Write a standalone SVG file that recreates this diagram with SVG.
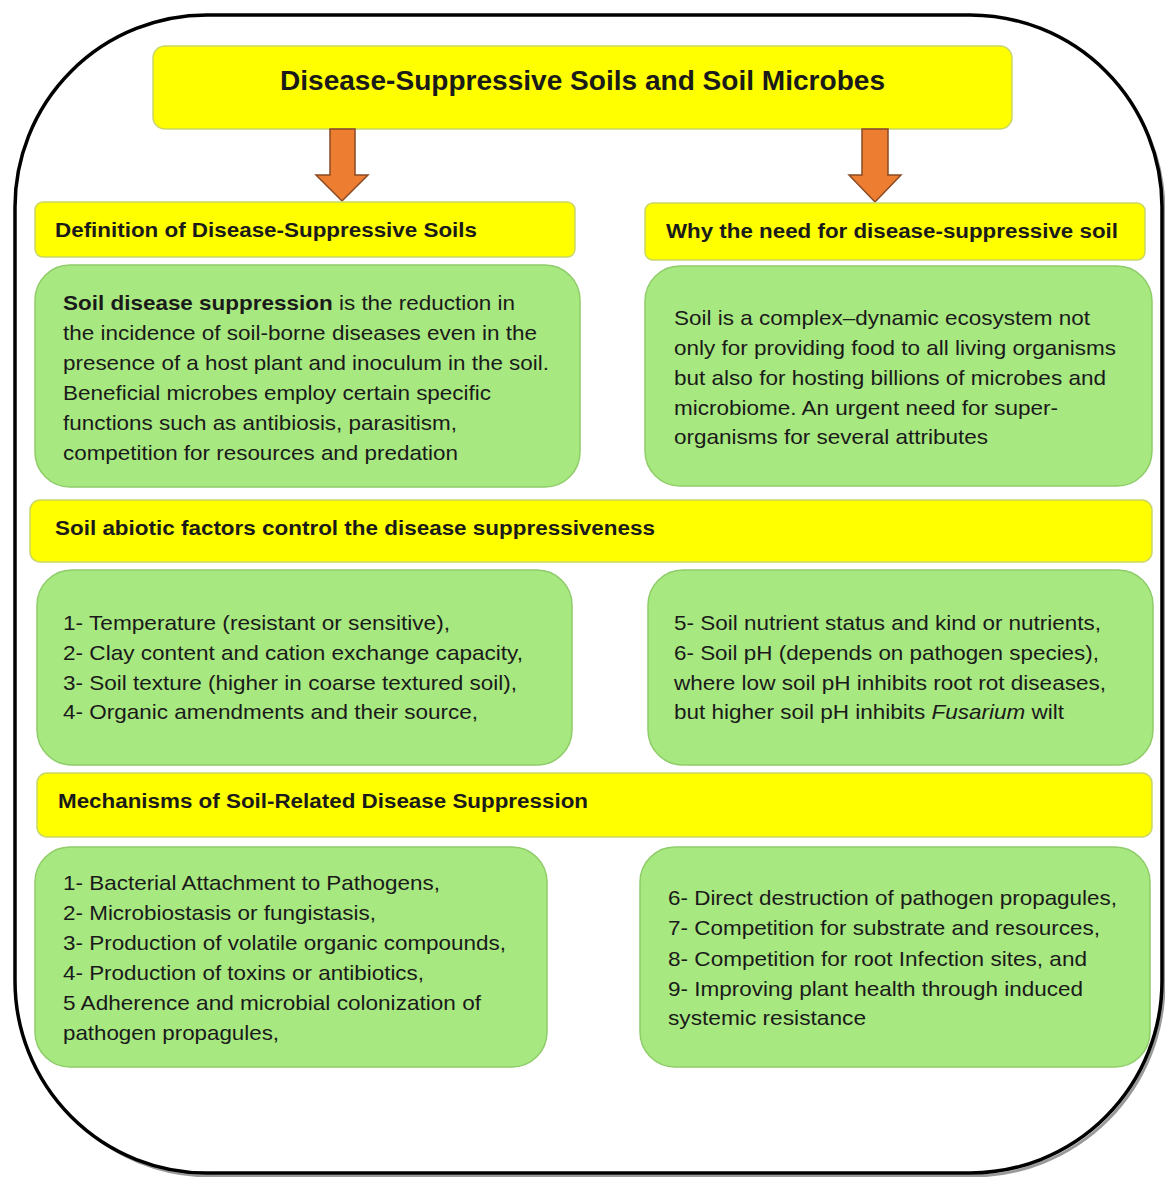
<svg xmlns="http://www.w3.org/2000/svg" width="1165" height="1177" viewBox="0 0 1165 1177">
<defs>
<style>
.frame{fill:#ffffff;stroke:#000000;stroke-width:3.5}
.shadow{fill:none;stroke:#9a9a9a;stroke-width:3}
.ybox{fill:#ffff00;stroke:#c9d66a;stroke-width:1.5}
.gbox{fill:#a8e880;stroke:#8fcc6a;stroke-width:1.5}
.arrow{fill:#ed7d31;stroke:#8a4a22;stroke-width:1.5}
.t{font-family:"Liberation Sans",Arial,sans-serif;fill:#1a1a1a}
.h{font-weight:bold;font-size:20px}
.b{font-size:21px}
</style>
</defs>
<rect class="shadow" x="19" y="19" width="1145" height="1157" rx="192"/>
<rect class="frame" x="15" y="15" width="1147" height="1158" rx="192"/>

<g id="title">
<rect class="ybox" x="153" y="46" width="859" height="83" rx="12"/>
<text class="t" x="280" y="90" font-size="28" font-weight="bold" textLength="605" lengthAdjust="spacingAndGlyphs">Disease-Suppressive Soils and Soil Microbes</text>
</g>

<g id="connectors">
<path class="arrow" d="M330,129 L355,129 L355,175 L368,175 L342,201 L316,175 L330,175 Z"/>
<path class="arrow" d="M862,129 L888,129 L888,175 L901,175 L875,202 L849,175 L862,175 Z"/>
</g>

<g id="def-header">
<rect class="ybox" x="35" y="202" width="540" height="55" rx="8"/>
<text class="t h" x="55" y="237" textLength="422" lengthAdjust="spacingAndGlyphs">Definition of Disease-Suppressive Soils</text>
</g>

<g id="why-header">
<rect class="ybox" x="645" y="203" width="500" height="57" rx="8"/>
<text class="t h" x="666" y="238" textLength="452" lengthAdjust="spacingAndGlyphs">Why the need for disease-suppressive soil</text>
</g>

<g id="def-body">
<rect class="gbox" x="35" y="265" width="545" height="222" rx="35"/>
<text class="t b" x="63" y="310" textLength="452" lengthAdjust="spacingAndGlyphs"><tspan font-weight="bold">Soil disease suppression</tspan> is the reduction in</text>
<text class="t b" x="63" y="340" textLength="474" lengthAdjust="spacingAndGlyphs">the incidence of soil-borne diseases even in the</text>
<text class="t b" x="63" y="370" textLength="486" lengthAdjust="spacingAndGlyphs">presence of a host plant and inoculum in the soil.</text>
<text class="t b" x="63" y="400" textLength="428" lengthAdjust="spacingAndGlyphs">Beneficial microbes employ certain specific</text>
<text class="t b" x="63" y="430" textLength="394" lengthAdjust="spacingAndGlyphs">functions such as antibiosis, parasitism,</text>
<text class="t b" x="63" y="460" textLength="395" lengthAdjust="spacingAndGlyphs">competition for resources and predation</text>
</g>

<g id="why-body">
<rect class="gbox" x="645" y="266" width="507" height="220" rx="35"/>
<text class="t b" x="674" y="325" textLength="416" lengthAdjust="spacingAndGlyphs">Soil is a complex–dynamic ecosystem not</text>
<text class="t b" x="674" y="355" textLength="442" lengthAdjust="spacingAndGlyphs">only for providing food to all living organisms</text>
<text class="t b" x="674" y="385" textLength="432" lengthAdjust="spacingAndGlyphs">but also for hosting billions of microbes and</text>
<text class="t b" x="674" y="415" textLength="384" lengthAdjust="spacingAndGlyphs">microbiome. An urgent need for super-</text>
<text class="t b" x="674" y="444" textLength="314" lengthAdjust="spacingAndGlyphs">organisms for several attributes</text>
</g>

<g id="abiotic-header">
<rect class="ybox" x="30" y="500" width="1122" height="62" rx="10"/>
<text class="t h" x="55" y="535" textLength="600" lengthAdjust="spacingAndGlyphs">Soil abiotic factors control the disease suppressiveness</text>
</g>

<g id="abiotic-left">
<rect class="gbox" x="37" y="570" width="535" height="195" rx="35"/>
<text class="t b" x="63" y="630" textLength="387" lengthAdjust="spacingAndGlyphs">1- Temperature (resistant or sensitive),</text>
<text class="t b" x="63" y="660" textLength="460" lengthAdjust="spacingAndGlyphs">2- Clay content and cation exchange capacity,</text>
<text class="t b" x="63" y="690" textLength="454" lengthAdjust="spacingAndGlyphs">3- Soil texture (higher in coarse textured soil),</text>
<text class="t b" x="63" y="719" textLength="415" lengthAdjust="spacingAndGlyphs">4- Organic amendments and their source,</text>
</g>

<g id="abiotic-right">
<rect class="gbox" x="648" y="570" width="505" height="195" rx="35"/>
<text class="t b" x="674" y="630" textLength="427" lengthAdjust="spacingAndGlyphs">5- Soil nutrient status and kind or nutrients,</text>
<text class="t b" x="674" y="660" textLength="425" lengthAdjust="spacingAndGlyphs">6- Soil pH (depends on pathogen species),</text>
<text class="t b" x="674" y="690" textLength="432" lengthAdjust="spacingAndGlyphs">where low soil pH inhibits root rot diseases,</text>
<text class="t b" x="674" y="719" textLength="390" lengthAdjust="spacingAndGlyphs">but higher soil pH inhibits <tspan font-style="italic">Fusarium</tspan> wilt</text>
</g>

<g id="mech-header">
<rect class="ybox" x="37" y="773" width="1115" height="64" rx="10"/>
<text class="t h" x="58" y="808" textLength="530" lengthAdjust="spacingAndGlyphs">Mechanisms of Soil-Related Disease Suppression</text>
</g>

<g id="mech-left">
<rect class="gbox" x="35" y="847" width="512" height="220" rx="35"/>
<text class="t b" x="63" y="890" textLength="377" lengthAdjust="spacingAndGlyphs">1- Bacterial Attachment to Pathogens,</text>
<text class="t b" x="63" y="920" textLength="313" lengthAdjust="spacingAndGlyphs">2- Microbiostasis or fungistasis,</text>
<text class="t b" x="63" y="950" textLength="443" lengthAdjust="spacingAndGlyphs">3- Production of volatile organic compounds,</text>
<text class="t b" x="63" y="980" textLength="361" lengthAdjust="spacingAndGlyphs">4- Production of toxins or antibiotics,</text>
<text class="t b" x="63" y="1010" textLength="418" lengthAdjust="spacingAndGlyphs">5 Adherence and microbial colonization of</text>
<text class="t b" x="63" y="1040" textLength="216" lengthAdjust="spacingAndGlyphs">pathogen propagules,</text>
</g>

<g id="mech-right">
<rect class="gbox" x="640" y="847" width="510" height="220" rx="35"/>
<text class="t b" x="668" y="905" textLength="449" lengthAdjust="spacingAndGlyphs">6- Direct destruction of pathogen propagules,</text>
<text class="t b" x="668" y="935" textLength="432" lengthAdjust="spacingAndGlyphs">7- Competition for substrate and resources,</text>
<text class="t b" x="668" y="966" textLength="419" lengthAdjust="spacingAndGlyphs">8- Competition for root Infection sites, and</text>
<text class="t b" x="668" y="996" textLength="415" lengthAdjust="spacingAndGlyphs">9- Improving plant health through induced</text>
<text class="t b" x="668" y="1025" textLength="198" lengthAdjust="spacingAndGlyphs">systemic resistance</text>
</g>
</svg>
